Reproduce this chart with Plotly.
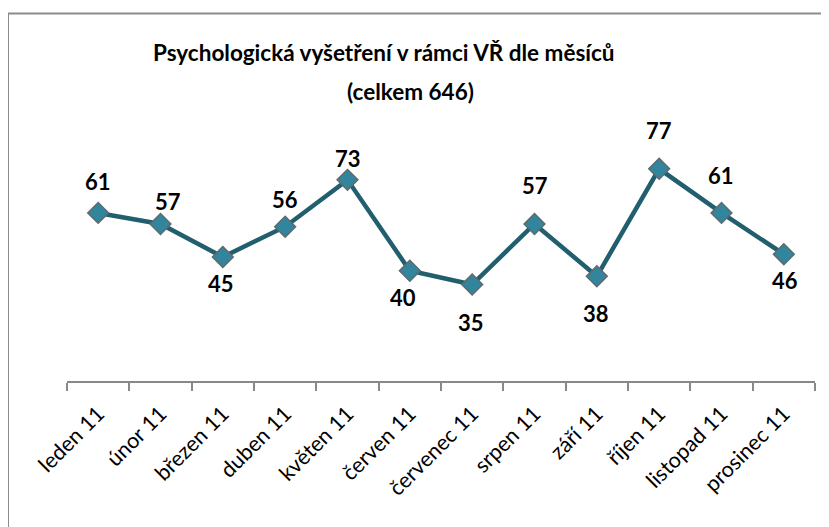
import plotly.graph_objects as go

months = ["leden 11", "únor 11", "březen 11", "duben 11", "květen 11", "červen 11",
          "červenec 11", "srpen 11", "září 11", "říjen 11", "listopad 11", "prosinec 11"]
counts = [61, 57, 45, 56, 73, 40, 35, 57, 38, 77, 61, 46]

title_line1 = "Psychologická vyšetření v rámci VŘ dle měsíců"
title_line2 = "(celkem 646)"

# label placement offsets (pixels) - styling only
label_dx = [0, 7, -2, 0, 0, -7, -1, 0, -1, 0, -1, 1]
label_dy = [31, 22, -26, 27, 21, -27, -38, 38, -37, 38, 37, -26]

FONT = "Lato"
OFF = 8  # page body margin
W, H = 829 - OFF, 527 - OFF
L, R, T, B = 67 - OFF, 22 - OFF, 132.5 - OFF, 146.25
pw, ph = W - L - R, H - T - B

def px(x):
    return (x - OFF - L) / pw

def py(y):
    return (H - B - (y - OFF)) / ph

fig = go.Figure()
fig.add_trace(go.Scatter(
    x=months, y=counts, mode="lines+markers",
    line=dict(color="#215E6E", width=4.5),
    marker=dict(symbol="diamond", size=16, color="#31859C",
                line=dict(color="#5F6A6E", width=1.5)),
    hoverinfo="x+y", showlegend=False,
))

annotations = []
for m, v, dx, dy in zip(months, counts, label_dx, label_dy):
    annotations.append(dict(x=m, y=v, xref="x", yref="y", text=str(v), showarrow=False,
                            xshift=dx, yshift=dy,
                            font=dict(family=FONT, size=22, color="#000000", weight="bold")))
annotations.append(dict(x=px(384), y=py(52), xref="paper", yref="paper", text=title_line1,
                        showarrow=False, xanchor="center", yanchor="middle",
                        font=dict(family=FONT, size=22.5, color="#000000", weight="bold")))
annotations.append(dict(x=px(410), y=py(91), xref="paper", yref="paper", text=title_line2,
                        showarrow=False, xanchor="center", yanchor="middle",
                        font=dict(family=FONT, size=22.5, color="#000000", weight="bold")))

shapes = [
    dict(type="line", xref="paper", yref="paper", x0=px(8), x1=px(8), y0=py(13), y1=py(560),
         line=dict(color="#8C8C8C", width=2)),
    dict(type="line", xref="paper", yref="paper", x0=px(8), x1=px(860), y0=py(13), y1=py(13),
         line=dict(color="#8C8C8C", width=2)),
]

fig.update_layout(
    width=W, height=H,
    margin=dict(l=L, r=R, t=T, b=B, pad=0),
    paper_bgcolor="white", plot_bgcolor="white",
    annotations=annotations, shapes=shapes,
    font=dict(family=FONT, color="#000000"),
)
fig.update_xaxes(
    type="category", range=[-0.5, 11.5], tickson="boundaries",
    showline=True, linecolor="#888888", linewidth=1.5,
    ticks="outside", ticklen=8, tickcolor="#888888", tickwidth=1.5,
    tickangle=-45, tickfont=dict(family=FONT, size=21.5, color="#000000"),
    ticklabelstandoff=10,
    showgrid=False, zeroline=False,
)
fig.update_yaxes(range=[0, 90], visible=False, showgrid=False, zeroline=False)

fig.write_html("out.html")
